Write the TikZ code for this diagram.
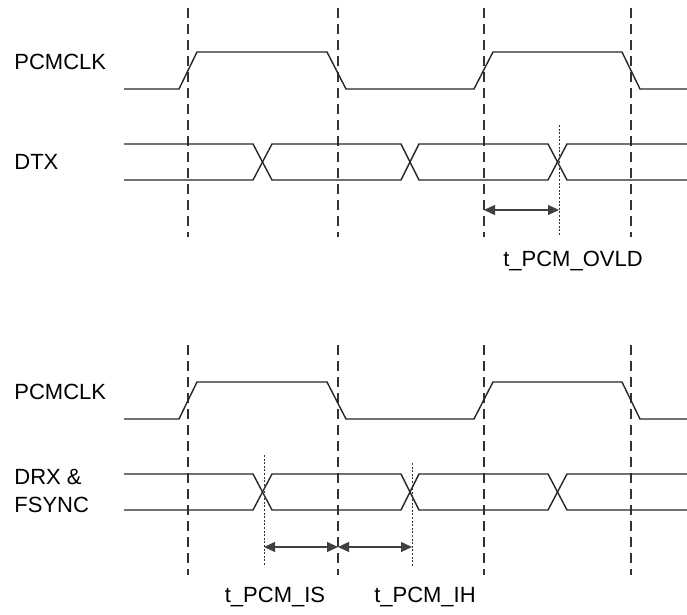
\documentclass[tikz,border=0pt]{standalone}
\usepackage{fontspec}
\setmainfont{Liberation Sans}
\usepackage{tikz}
\usetikzlibrary{arrows.meta}
\tikzset{
  wave/.style     = {line width=0.7pt, black!85, line join=miter},
  edgeline/.style = {line width=0.6pt, black!80, dash pattern=on 5pt off 3pt},
  markline/.style = {line width=0.35pt, black!80, dash pattern=on 1pt off 0.8pt},
  tim/.style      = {{Triangle[length=5.5pt,width=5pt]}-{Triangle[length=5.5pt,width=5pt]},
                     line width=0.55pt, black!75},
  siglab/.style   = {font=\fontsize{11}{13}\selectfont, inner sep=0pt, anchor=base west},
  timlab/.style   = {font=\fontsize{11}{13}\selectfont, inner sep=0pt, anchor=base},
}
\begin{document}
\begin{tikzpicture}[x=0.5pt, y=-0.5pt]
\useasboundingbox (0,0) rectangle (687,615);

% upper diagram: PCMCLK and DTX
\foreach \x in {188,338,484,631}
  \draw[edgeline] (\x,8) -- (\x,237);
\node[siglab] (clkA) at (14,70)  {PCMCLK};
\node[siglab] (dtx)  at (14,170) {DTX};
\draw[wave] (124,89) -- (179,89) -- (197,52) -- (327,52) -- (346,89) -- (474,89)
  -- (493,52) -- (622,52) -- (640,89) -- (687,89);
\draw[wave] (124,144) -- (253,144) -- (272,180) -- (401,180) -- (419,144) -- (548,144)
  -- (567,180) -- (687,180);
\draw[wave] (124,180) -- (253,180) -- (272,144) -- (401,144) -- (419,180) -- (548,180)
  -- (567,144) -- (687,144);
\coordinate (ovldA) at (484,210);
\coordinate (ovldB) at (559,210);
\draw[markline] (559,125) -- (559,235);
\draw[tim] (ovldA) -- (ovldB);
\node[timlab] (ovld) at (573,267) {t\_PCM\_OVLD};

% lower diagram: PCMCLK and DRX & FSYNC
\foreach \x in {188,338,484,631}
  \draw[edgeline] (\x,345) -- (\x,575);
\node[siglab] (clkB) at (14,400) {PCMCLK};
\node[siglab] (drx)  at (14,485) {DRX \&};
\node[siglab] (fsync) at (14,513) {FSYNC};
\draw[wave] (124,419) -- (179,419) -- (197,382) -- (327,382) -- (346,419) -- (474,419)
  -- (493,382) -- (622,382) -- (640,419) -- (687,419);
\draw[wave] (124,474) -- (253,474) -- (272,510) -- (401,510) -- (419,474) -- (548,474)
  -- (567,510) -- (687,510);
\draw[wave] (124,510) -- (253,510) -- (272,474) -- (401,474) -- (419,510) -- (548,510)
  -- (567,474) -- (687,474);
\coordinate (isA) at (264,547);
\coordinate (isB) at (338,547);
\coordinate (ihB) at (412,547);
\draw[markline] (264,455) -- (264,566);
\draw[markline] (412,463) -- (412,566);
\draw[tim] (isA) -- (isB);
\draw[tim] (isB) -- (ihB);
\node[timlab] (pcmis) at (275,603) {t\_PCM\_IS};
\node[timlab] (pcmih) at (425,603) {t\_PCM\_IH};
\end{tikzpicture}
\end{document}
